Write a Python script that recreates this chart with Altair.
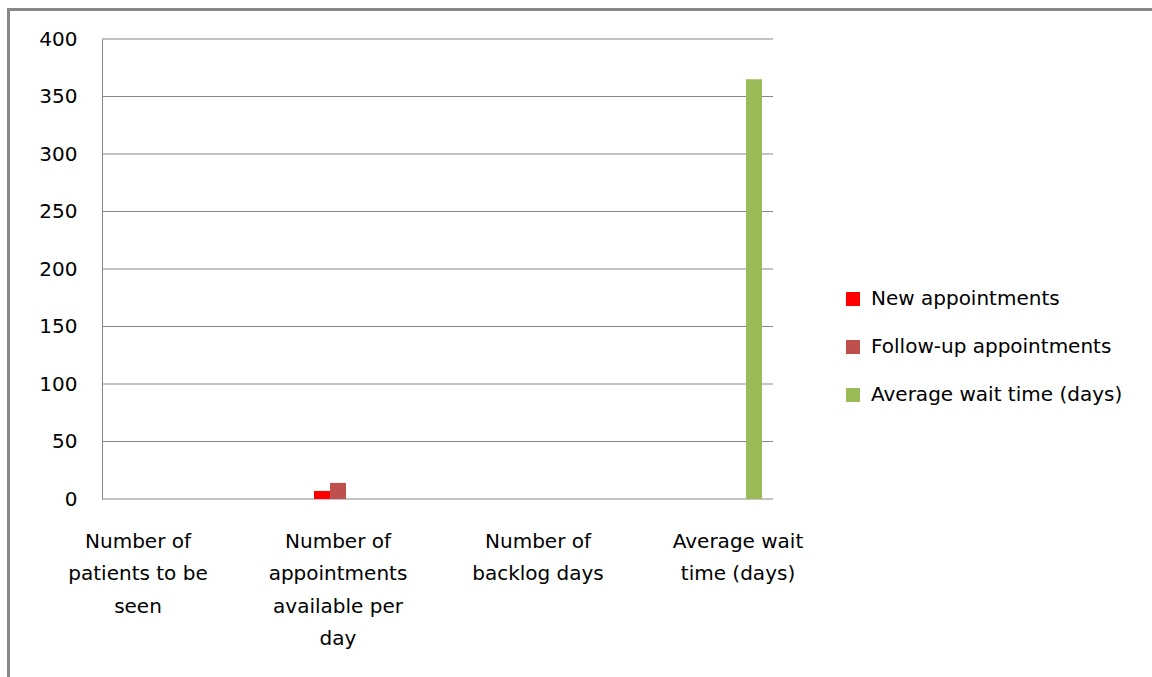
import altair as alt
import pandas as pd

# ---- data ----
categories = [
    "Number of\npatients to be\nseen",
    "Number of\nappointments\navailable per\nday",
    "Number of\nbacklog days",
    "Average wait\ntime (days)",
]
series_names = ["New appointments", "Follow-up appointments", "Average wait time (days)"]
new_appointments = [None, 7, None, None]
followup_appointments = [None, 14, None, None]
average_wait = [None, None, None, 365]
series_colors = ["#FF0000", "#C0504D", "#9BBB59"]
y_ticks = [0, 50, 100, 150, 200, 250, 300, 350, 400]

rows = []
for name, vals in zip(series_names, [new_appointments, followup_appointments, average_wait]):
    for cat, v in zip(categories, vals):
        if v is not None:
            rows.append({"category": cat, "series": name, "value": v})
df = pd.DataFrame(rows)
grid_df = pd.DataFrame({"tick": y_ticks})

FONT = "DejaVu Sans"
GRID = "#878787"
Y_SCALE = alt.Scale(domain=[0, 400], nice=False)

grid = alt.Chart(grid_df).mark_rule(color=GRID, strokeWidth=1).encode(
    y=alt.Y("tick:Q", scale=Y_SCALE),
    x=alt.value(0),
    x2=alt.value(671),
)

bars = alt.Chart(df).mark_bar().encode(
    x=alt.X(
        "category:N",
        sort=categories,
        scale=alt.Scale(domain=categories, range=[-64, 736], paddingInner=0, paddingOuter=0),
        axis=alt.Axis(
            title=None, labelAngle=0, ticks=False, domain=False, grid=False,
            labelFont=FONT, labelFontSize=20, labelColor="black",
            labelExpr="split(datum.label, '\\n')", labelLineHeight=32.5,
            labelBaseline="top", labelPadding=32, labelLimit=300,
        ),
    ),
    xOffset=alt.XOffset(
        "series:N",
        sort=series_names,
        scale=alt.Scale(domain=series_names, range=[76, 124], paddingInner=0, paddingOuter=0),
    ),
    y=alt.Y(
        "value:Q",
        scale=Y_SCALE,
        axis=alt.Axis(
            title=None, values=y_ticks, ticks=False, grid=False,
            domainColor=GRID, domainWidth=1,
            labelFont=FONT, labelFontSize=20, labelColor="black", labelPadding=25,
        ),
    ),
    color=alt.Color(
        "series:N",
        scale=alt.Scale(domain=series_names, range=series_colors),
        legend=alt.Legend(
            title=None, orient="none", legendX=741, legendY=250,
            symbolType="square", symbolSize=196, symbolStrokeWidth=0,
            labelFont=FONT, labelFontSize=20, labelColor="black",
            rowPadding=28, labelOffset=8, padding=0, labelLimit=400,
        ),
    ),
)

one = pd.DataFrame({"a": [0]})
frame_top = alt.Chart(one).mark_rule(color=GRID, strokeWidth=3).encode(
    x=alt.value(-95), x2=alt.value(1050), y=alt.value(-29.5)
)
frame_left = alt.Chart(one).mark_rule(color=GRID, strokeWidth=3).encode(
    x=alt.value(-93.5), y=alt.value(-31), y2=alt.value(640)
)

chart = alt.layer(grid, bars, frame_top, frame_left).properties(
    width=671, height=460,
    padding={"left": 102, "top": 39, "right": 379, "bottom": 178},
    autosize="none",
    background="white",
).configure_view(stroke=None)

chart.save("out.html", embed_options={"renderer": "svg", "actions": False})
